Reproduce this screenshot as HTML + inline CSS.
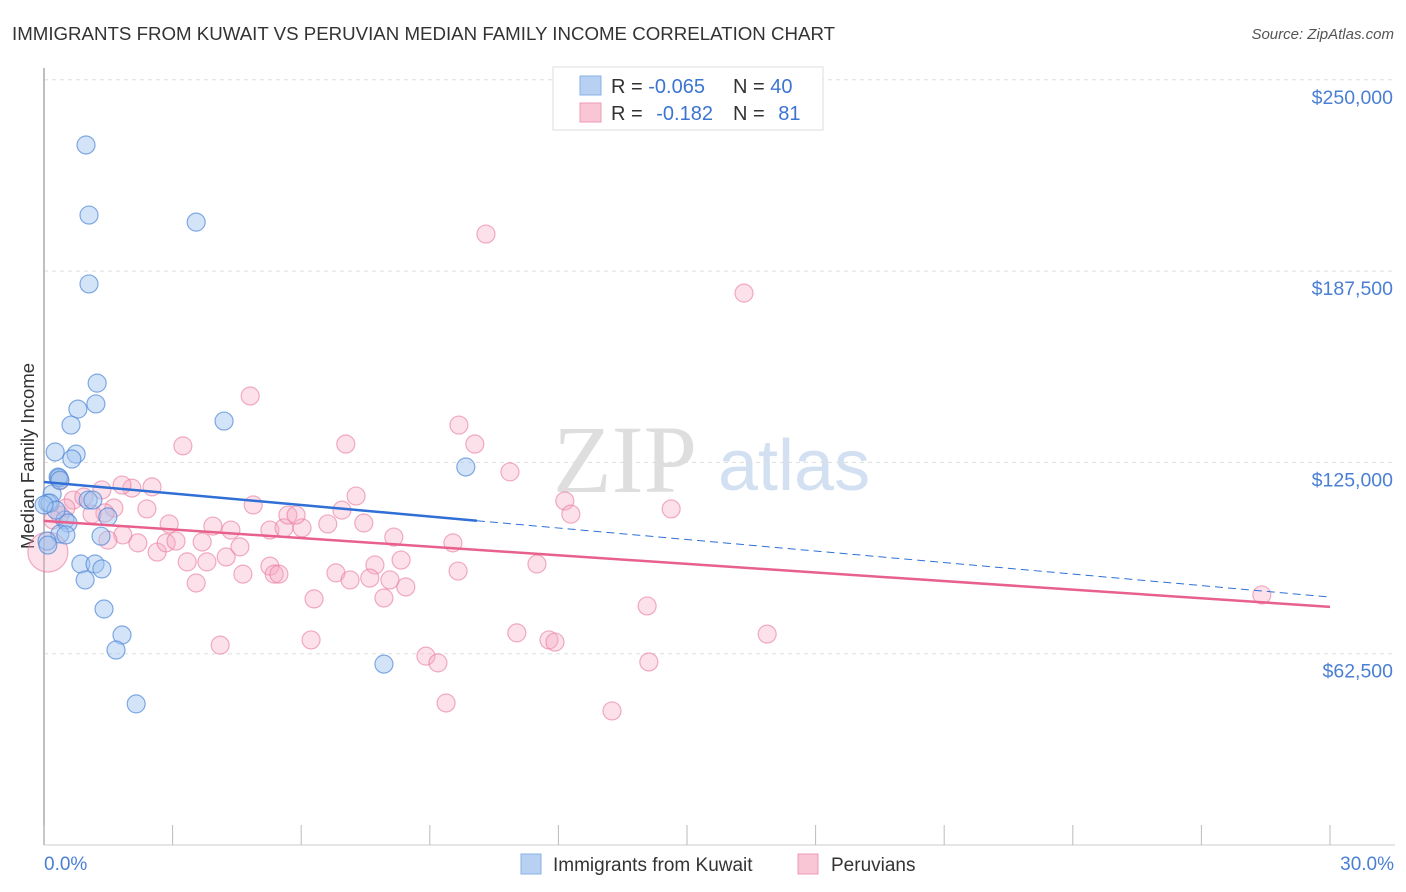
<!DOCTYPE html>
<html><head><meta charset="utf-8"><style>
body{margin:0;background:#fff;font-family:"Liberation Sans",sans-serif}
svg{display:block}
</style></head><body>
<svg id="c" width="1406" height="892" xmlns="http://www.w3.org/2000/svg">
<text x="12" y="40" font-size="18.7" fill="#333">IMMIGRANTS FROM KUWAIT VS PERUVIAN MEDIAN FAMILY INCOME CORRELATION CHART</text>
<text x="1394" y="39" font-size="15" fill="#555" font-style="italic" text-anchor="end">Source: ZipAtlas.com</text>
<g>
<text x="553" y="492" font-family="Liberation Serif,serif" font-size="96" fill="#d4d4d4" opacity="0.75">ZIP</text>
<text x="718" y="490" font-size="72" fill="#c3d6ee" opacity="0.75">atlas</text>
</g>
<g id="grid"></g>
<line x1="44" y1="68" x2="44" y2="845" stroke="#aaa" stroke-width="1.5"/>
<line x1="44" y1="845" x2="1395" y2="845" stroke="#ccc" stroke-width="1"/>
<g id="xticks"></g>
<g id="ylabels"></g>
<text transform="translate(34,456) rotate(-90)" font-size="18.5" fill="#333" text-anchor="middle">Median Family Income</text>
<text x="44" y="870" font-size="19" fill="#4a7fd4">0.0%</text>
<text x="1394" y="870" font-size="19" fill="#4a7fd4" text-anchor="end">30.0%</text>
<g id="pink"></g>
<g id="blue"></g>
<g id="trends"></g>
<g>
<rect x="553" y="67" width="270" height="63" fill="#fff" stroke="#ddd"/>
<rect x="580" y="76" width="21" height="19" fill="#b8d1f3" stroke="#8ab0e8"/>
<rect x="580" y="103" width="21" height="19" fill="#f9c6d5" stroke="#ee9ab3"/>
<text x="611" y="93" font-size="20" fill="#333">R = <tspan fill="#3c74d2">-0.065</tspan></text>
<text x="733" y="93" font-size="20" fill="#333">N = <tspan fill="#3c74d2">40</tspan></text>
<text x="611" y="120" font-size="20" fill="#333">R = <tspan fill="#3c74d2" dx="8">-0.182</tspan></text>
<text x="733" y="120" font-size="20" fill="#333">N = <tspan fill="#3c74d2" dx="8">81</tspan></text>
</g>
<g>
<rect x="521" y="854" width="20" height="20" fill="#b8d1f3" stroke="#8ab0e8"/>
<text x="553" y="871" font-size="19" fill="#333">Immigrants from Kuwait</text>
<rect x="798" y="854" width="20" height="20" fill="#f9c6d5" stroke="#ee9ab3"/>
<text x="831" y="871" font-size="19" fill="#333">Peruvians</text>
</g>
</svg>
<script>
const yTicks=[62500,125000,187500,250000];
const yTickLabels=["$62,500","$125,000","$187,500","$250,000"];
const xTicks=[0,3,6,9,12,15,18,21,24,27,30];
const blueX=[0.98,1.05,3.55,1.05,1.24,1.21,0.79,0.63,4.20,0.26,0.75,0.65,0.33,0.35,9.84,0.19,0.09,0.14,1.03,1.14,0.49,0.56,0.37,0.51,1.33,1.49,0.28,0.86,1.19,1.35,0.96,1.40,1.82,1.68,7.93,2.15,0.07,0.09,0.0,0.37];
const blueY=[228700,205800,203500,183300,150900,144100,142400,137200,138500,128400,127700,126100,120200,119900,123500,114700,111700,111700,112700,112700,106200,105200,101600,101300,100900,107200,109400,91800,91800,90200,86600,77100,68600,63700,59100,46100,99300,98000,111100,119200];
const pinkX=[10.31,16.33,4.81,9.68,3.24,7.04,10.05,10.87,12.15,12.29,14.63,7.28,6.95,4.88,2.40,2.92,3.94,4.36,5.27,5.60,6.02,6.62,7.46,5.69,5.88,4.57,4.25,3.80,3.34,2.64,2.85,3.08,3.69,2.19,1.84,1.49,2.05,2.52,1.82,1.35,1.63,1.42,1.12,0.68,0.51,0.37,0.21,8.16,8.33,7.72,9.54,9.66,11.50,5.27,5.37,5.48,6.81,7.14,7.60,8.07,8.44,7.93,4.64,3.55,6.30,6.23,4.11,8.91,9.19,11.03,11.78,11.92,14.07,14.11,16.87,9.38,13.25,28.41,0.09,0.93,0.37];
const pinkY=[199600,180300,146700,137200,130400,131000,131000,121900,112400,108100,109800,114000,109400,111100,109800,104900,104200,102900,102900,103600,103600,104900,105200,107800,107800,97400,94100,92500,92500,95700,98700,99300,99000,98700,101300,99600,116600,117000,117600,116000,110100,108500,108100,112700,110100,107800,106200,100600,93100,91500,98700,89500,91800,91100,88500,88500,88900,86600,87200,86600,84300,80700,88500,85600,80400,67000,65300,61700,59500,69300,67000,66300,78100,59800,68900,46400,43800,81700,95700,113700,119000];
const pinkBig=[78];
const blueTrend=[118600,81000];
const blueSolidEnd=10.1;
const pinkTrend=[105900,77800];
const NS="http://www.w3.org/2000/svg";
const X=v=>44+v/30*1286;
const Y=v=>845-v/62500*191.3;
function mk(t,a,p){const e=document.createElementNS(NS,t);for(const k in a)e.setAttribute(k,a[k]);p.appendChild(e);return e;}
const grid=document.getElementById('grid'),yl=document.getElementById('ylabels'),xt=document.getElementById('xticks');
yTicks.forEach((v,i)=>{
 const l=mk('line',{x1:44,x2:1395,y1:Y(v),y2:Y(v),stroke:'#ddd','stroke-dasharray':'4,4'},grid);
 
 
 const t=mk('text',{x:1393,y:Y(v)+24,'font-size':19.5,fill:'#4a7fd4','text-anchor':'end'},yl);
 t.textContent=yTickLabels[i];
 
 
});
xTicks.forEach(v=>{
 const l=mk('line',{x1:X(v),x2:X(v),y1:825,y2:845,stroke:'#bbb'},xt);
 
 
});
const pg=document.getElementById('pink');
pinkX.forEach((x,i)=>{
 const c=mk('circle',{cx:X(x),cy:Y(pinkY[i]),r:pinkBig.includes(i)?20:9,fill:'rgba(246,170,195,0.35)',stroke:'rgba(232,120,155,0.6)','stroke-width':1.2},pg);
 
 
});
const bg=document.getElementById('blue');
blueX.forEach((x,i)=>{
 const c=mk('circle',{cx:X(x),cy:Y(blueY[i]),r:9,fill:'rgba(160,195,240,0.45)',stroke:'rgba(80,135,215,0.7)','stroke-width':1.2},bg);
 
 
});
const tg=document.getElementById('trends');
const bAt=x=>blueTrend[0]+(blueTrend[1]-blueTrend[0])*x/30;
let l1=mk('line',{x1:X(0),y1:Y(blueTrend[0]),x2:X(blueSolidEnd),y2:Y(bAt(blueSolidEnd)),stroke:'#2f6fd6','stroke-width':2.5},tg);


let l2=mk('line',{x1:X(blueSolidEnd),y1:Y(bAt(blueSolidEnd)),x2:X(30),y2:Y(blueTrend[1]),stroke:'#2f6fd6','stroke-width':1,'stroke-dasharray':'8,5'},tg);


let l3=mk('line',{x1:X(0),y1:Y(pinkTrend[0]),x2:X(30),y2:Y(pinkTrend[1]),stroke:'#e8608c','stroke-width':2.5},tg);


</script>
</body></html>
